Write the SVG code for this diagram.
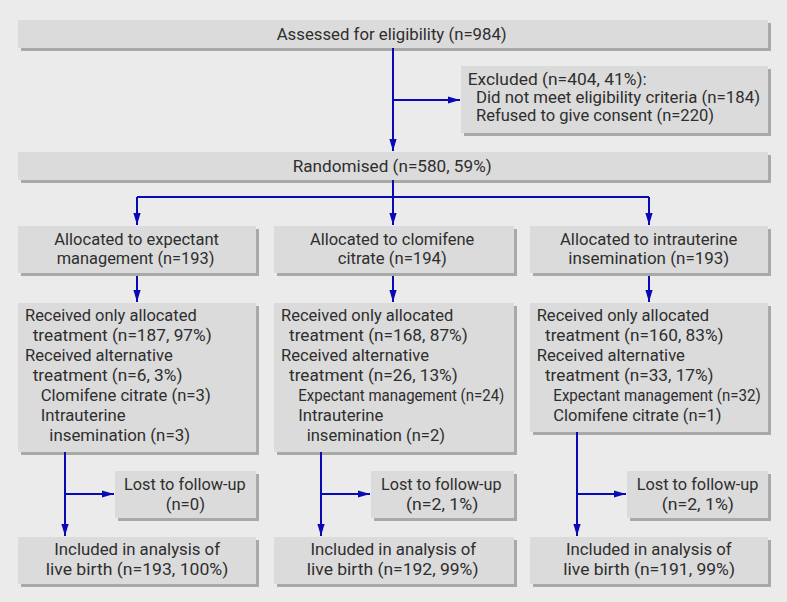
<svg xmlns="http://www.w3.org/2000/svg" width="787" height="602" viewBox="0 0 787 602">
<defs>
<style>
.bg{fill:#ebebeb}
.sh{fill:#a9a9a9}
.bx{fill:#dbdbdb}
text{font-family:"Roboto","Liberation Sans",sans-serif;font-size:17px;fill:#2e2e2e}
.ln{stroke:#0a0ab4;stroke-width:2;fill:none}
</style>
<marker id="ah" viewBox="0 0 10 10" refX="10" refY="5" markerWidth="6" markerHeight="6" markerUnits="strokeWidth" orient="auto">
<path d="M0,2 L10,5 L0,8 z" fill="#0a0ab4"/>
</marker>
</defs>
<rect class="bg" x="0" y="0" width="787" height="602"/>

<g id="assessed">
<rect class="sh" x="21" y="23" width="750" height="28"/>
<rect class="bx" x="18" y="20" width="750" height="28"/>
<text x="276.7" y="40" textLength="230" lengthAdjust="spacingAndGlyphs">Assessed for eligibility (n=984)</text>
</g>

<g id="excluded">
<rect class="sh" x="464" y="69" width="307" height="67"/>
<rect class="bx" x="461" y="66" width="307" height="67"/>
<text x="467.7" y="85" textLength="179" lengthAdjust="spacingAndGlyphs">Excluded (n=404, 41%):</text>
<text x="476" y="103" textLength="284" lengthAdjust="spacingAndGlyphs">Did not meet eligibility criteria (n=184)</text>
<text x="476" y="121" textLength="238" lengthAdjust="spacingAndGlyphs">Refused to give consent (n=220)</text>
</g>

<g id="randomised">
<rect class="sh" x="21" y="155" width="750" height="28"/>
<rect class="bx" x="18" y="152" width="750" height="28"/>
<text x="292.7" y="172" textLength="199" lengthAdjust="spacingAndGlyphs">Randomised (n=580, 59%)</text>
</g>

<g id="alloc1">
<rect class="sh" x="21" y="229" width="238" height="47"/>
<rect class="bx" x="18" y="226" width="238" height="47"/>
<text x="54.3" y="245" textLength="164.7" lengthAdjust="spacingAndGlyphs">Allocated to expectant</text>
<text x="56.7" y="264" textLength="157.7" lengthAdjust="spacingAndGlyphs">management (n=193)</text>
</g>
<g id="alloc2">
<rect class="sh" x="277" y="229" width="240" height="47"/>
<rect class="bx" x="274" y="226" width="240" height="47"/>
<text x="310" y="245" textLength="164.3" lengthAdjust="spacingAndGlyphs">Allocated to clomifene</text>
<text x="337.7" y="264" textLength="109" lengthAdjust="spacingAndGlyphs">citrate (n=194)</text>
</g>
<g id="alloc3">
<rect class="sh" x="533" y="229" width="238" height="47"/>
<rect class="bx" x="530" y="226" width="238" height="47"/>
<text x="560" y="245" textLength="177.3" lengthAdjust="spacingAndGlyphs">Allocated to intrauterine</text>
<text x="568.3" y="264" textLength="161" lengthAdjust="spacingAndGlyphs">insemination (n=193)</text>
</g>

<g id="received1">
<rect class="sh" x="21" y="306" width="238" height="149"/>
<rect class="bx" x="18" y="303" width="238" height="149"/>
<text x="25" y="321" textLength="171.7" lengthAdjust="spacingAndGlyphs">Received only allocated</text>
<text x="32.7" y="341" textLength="179" lengthAdjust="spacingAndGlyphs">treatment (n=187, 97%)</text>
<text x="25" y="361" textLength="147.7" lengthAdjust="spacingAndGlyphs">Received alternative</text>
<text x="32.7" y="381" textLength="149.7" lengthAdjust="spacingAndGlyphs">treatment (n=6, 3%)</text>
<text x="40.7" y="401" textLength="170" lengthAdjust="spacingAndGlyphs">Clomifene citrate (n=3)</text>
<text x="40.7" y="421" textLength="85" lengthAdjust="spacingAndGlyphs">Intrauterine</text>
<text x="49.3" y="441" textLength="140.7" lengthAdjust="spacingAndGlyphs">insemination (n=3)</text>
</g>
<g id="received2">
<rect class="sh" x="277" y="306" width="240" height="149"/>
<rect class="bx" x="274" y="303" width="240" height="149"/>
<text x="281" y="321" textLength="172.3" lengthAdjust="spacingAndGlyphs">Received only allocated</text>
<text x="289" y="341" textLength="178.7" lengthAdjust="spacingAndGlyphs">treatment (n=168, 87%)</text>
<text x="281" y="361" textLength="148" lengthAdjust="spacingAndGlyphs">Received alternative</text>
<text x="289" y="381" textLength="168.7" lengthAdjust="spacingAndGlyphs">treatment (n=26, 13%)</text>
<text x="298.3" y="401" textLength="206" lengthAdjust="spacingAndGlyphs">Expectant management (n=24)</text>
<text x="298.3" y="421" textLength="85" lengthAdjust="spacingAndGlyphs">Intrauterine</text>
<text x="306.7" y="441" textLength="138.3" lengthAdjust="spacingAndGlyphs">insemination (n=2)</text>
</g>
<g id="received3">
<rect class="sh" x="533" y="306" width="238" height="129"/>
<rect class="bx" x="530" y="303" width="238" height="129"/>
<text x="536.7" y="321" textLength="172.5" lengthAdjust="spacingAndGlyphs">Received only allocated</text>
<text x="545" y="341" textLength="178.5" lengthAdjust="spacingAndGlyphs">treatment (n=160, 83%)</text>
<text x="536.7" y="361" textLength="148.2" lengthAdjust="spacingAndGlyphs">Received alternative</text>
<text x="545" y="381" textLength="168.5" lengthAdjust="spacingAndGlyphs">treatment (n=33, 17%)</text>
<text x="553.3" y="401" textLength="207.5" lengthAdjust="spacingAndGlyphs">Expectant management (n=32)</text>
<text x="553.3" y="421" textLength="168.3" lengthAdjust="spacingAndGlyphs">Clomifene citrate (n=1)</text>
</g>

<g id="lost1">
<rect class="sh" x="118" y="474" width="141" height="47"/>
<rect class="bx" x="115" y="471" width="141" height="47"/>
<text x="124" y="490" textLength="121.7" lengthAdjust="spacingAndGlyphs">Lost to follow-up</text>
<text x="165.7" y="510" textLength="39.3" lengthAdjust="spacingAndGlyphs">(n=0)</text>
</g>
<g id="lost2">
<rect class="sh" x="374" y="474" width="143" height="47"/>
<rect class="bx" x="371" y="471" width="143" height="47"/>
<text x="381" y="490" textLength="120.5" lengthAdjust="spacingAndGlyphs">Lost to follow-up</text>
<text x="406" y="510" textLength="72.3" lengthAdjust="spacingAndGlyphs">(n=2, 1%)</text>
</g>
<g id="lost3">
<rect class="sh" x="630" y="474" width="141" height="47"/>
<rect class="bx" x="627" y="471" width="141" height="47"/>
<text x="636.7" y="490" textLength="121.7" lengthAdjust="spacingAndGlyphs">Lost to follow-up</text>
<text x="661.7" y="510" textLength="72.3" lengthAdjust="spacingAndGlyphs">(n=2, 1%)</text>
</g>

<g id="included1">
<rect class="sh" x="21" y="540" width="238" height="47"/>
<rect class="bx" x="18" y="537" width="238" height="47"/>
<text x="54.3" y="555" textLength="165.7" lengthAdjust="spacingAndGlyphs">Included in analysis of</text>
<text x="45.7" y="575" textLength="182.7" lengthAdjust="spacingAndGlyphs">live birth (n=193, 100%)</text>
</g>
<g id="included2">
<rect class="sh" x="277" y="540" width="240" height="47"/>
<rect class="bx" x="274" y="537" width="240" height="47"/>
<text x="310.5" y="555" textLength="165.7" lengthAdjust="spacingAndGlyphs">Included in analysis of</text>
<text x="306.8" y="575" textLength="171.7" lengthAdjust="spacingAndGlyphs">live birth (n=192, 99%)</text>
</g>
<g id="included3">
<rect class="sh" x="533" y="540" width="238" height="47"/>
<rect class="bx" x="530" y="537" width="238" height="47"/>
<text x="566" y="555" textLength="165.7" lengthAdjust="spacingAndGlyphs">Included in analysis of</text>
<text x="563.3" y="575" textLength="171.7" lengthAdjust="spacingAndGlyphs">live birth (n=191, 99%)</text>
</g>

<g id="connectors" class="ln">
<path d="M393,48 V151" marker-end="url(#ah)"/>
<path d="M393,100 H460" marker-end="url(#ah)"/>
<path d="M393,180 V197 M137,197 H649"/>
<path d="M137,197 V225" marker-end="url(#ah)"/>
<path d="M393,197 V225" marker-end="url(#ah)"/>
<path d="M649,197 V225" marker-end="url(#ah)"/>
<path d="M137,276 V302" marker-end="url(#ah)"/>
<path d="M393,276 V302" marker-end="url(#ah)"/>
<path d="M649,276 V302" marker-end="url(#ah)"/>
<path d="M65,452 V536" marker-end="url(#ah)"/>
<path d="M65,494 H114" marker-end="url(#ah)"/>
<path d="M321,452 V536" marker-end="url(#ah)"/>
<path d="M321,494 H370" marker-end="url(#ah)"/>
<path d="M577,432 V536" marker-end="url(#ah)"/>
<path d="M577,494 H626" marker-end="url(#ah)"/>
</g>
</svg>
